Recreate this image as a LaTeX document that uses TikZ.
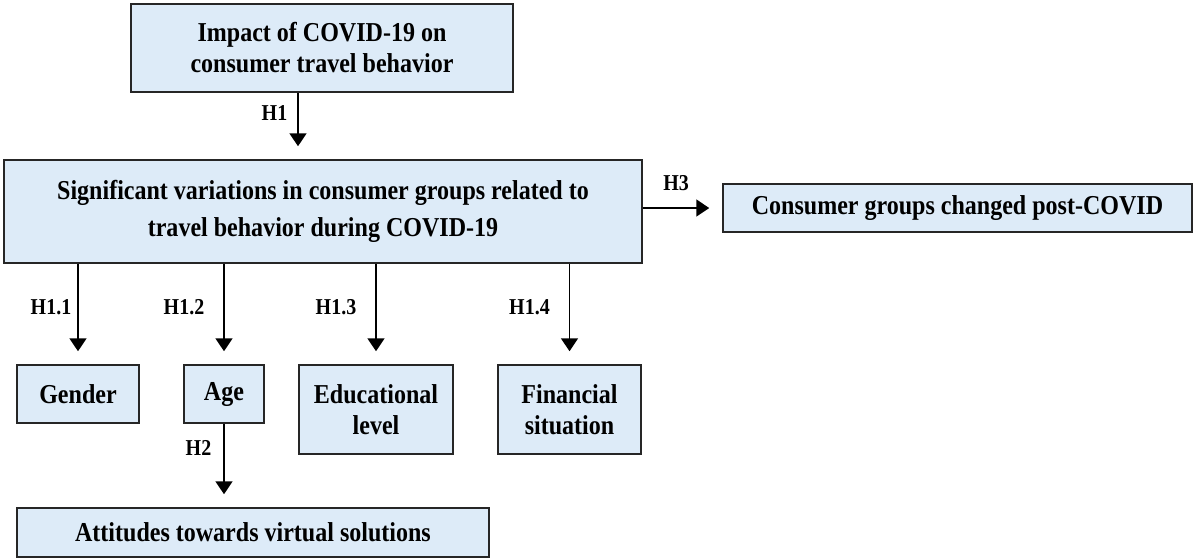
\documentclass[tikz,border=0pt]{standalone}
\usepackage{fontspec}
\setmainfont[FakeStretch=0.88]{Liberation Serif}
\usetikzlibrary{arrows.meta, positioning}
\definecolor{boxblue}{RGB}{221,235,248}

\begin{document}
\begin{tikzpicture}[
  x=1pt, y=-1pt,
  box/.style={draw=black!85, line width=1.5pt, fill=boxblue, align=center, inner sep=0pt,
              font=\bfseries\fontsize{27.3}{31}\selectfont},
  flow/.style={-{Triangle[length=13pt, width=17pt]}, line width=1.5pt, shorten >=13pt},
  hlab/.style={inner sep=0pt, font=\bfseries\fontsize{22.7}{24}\selectfont}
]
\useasboundingbox (0,0) rectangle (1194,558);

\node[box, minimum width=382pt, minimum height=88pt] (impact) at (322,48) {Impact of COVID-19 on\\consumer travel behavior};
\node[box, minimum width=638pt, minimum height=103pt, font=\bfseries\fontsize{27.3}{37}\selectfont] (groups) at (323,211.5) {Significant variations in consumer groups related to\\travel behavior during COVID-19};
\node[box, minimum width=469pt, minimum height=48pt] (post) at (957.5,208) {Consumer groups changed post-COVID};

\node[box, minimum width=122pt, minimum height=58pt] (gender) at (78,394) {Gender};
\node[box, minimum width=80pt, minimum height=58pt] (age) at (224,394) {Age};
\node[box, minimum width=154pt, minimum height=89pt] (edu) at (376,409.5) {Educational\\level};
\node[box, minimum width=143pt, minimum height=89pt] (fin) at (569.5,409.5) {Financial\\situation};
\node[box, minimum width=472pt, minimum height=49pt] (virtual) at (253,532.5) {Attitudes towards virtual solutions};

\coordinate (h1top) at ([xshift=-24pt]impact.south);
\draw[flow] (h1top) -- node[hlab, pos=0.3, left=10pt] {H1} (h1top |- groups.north);
\draw[flow] (groups.east |- post.west) -- node[hlab, pos=0.42, above=17pt] {H3} (post.west);

\draw[flow] (groups.south -| gender.north) -- node[hlab, pos=0.43, left=6pt] {H1.1} (gender.north);
\draw[flow] (groups.south -| age.north) -- node[hlab, pos=0.43, left=19pt] {H1.2} (age.north);
\draw[flow] (groups.south -| edu.north) -- node[hlab, pos=0.43, left=19pt] {H1.3} (edu.north);
\draw[flow] (groups.south -| fin.north) -- node[hlab, pos=0.43, left=19pt] {H1.4} (fin.north);

\draw[flow] (age.south) -- node[hlab, pos=0.29, left=12pt] {H2} (age.south |- virtual.north);
\end{tikzpicture}
\end{document}
